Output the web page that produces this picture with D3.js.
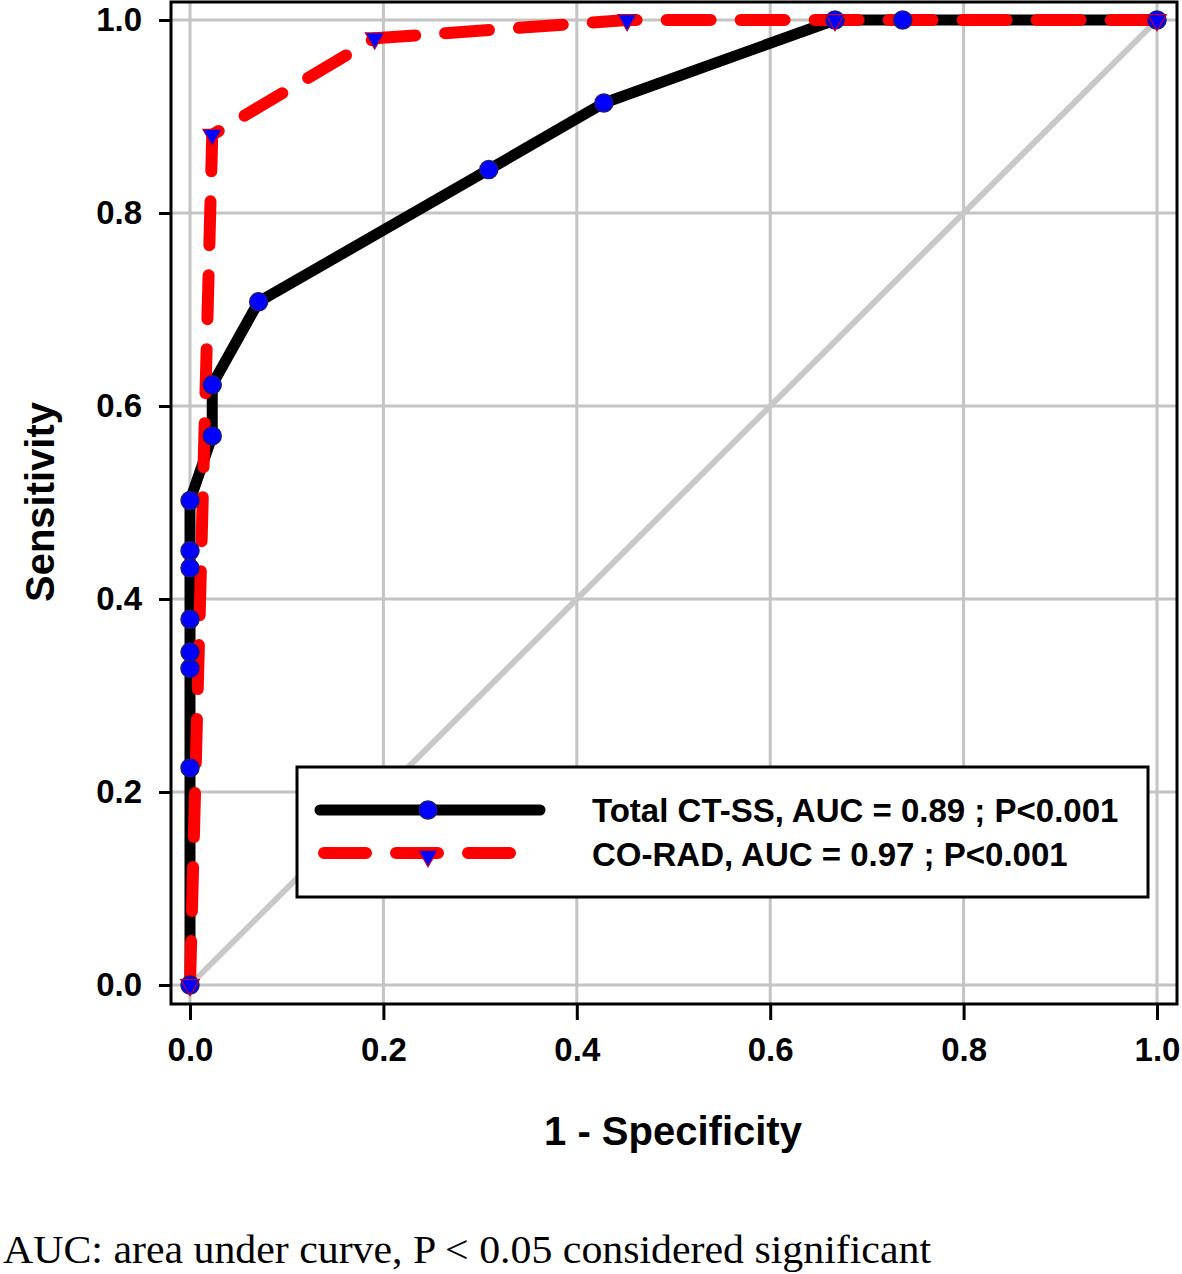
<!DOCTYPE html>
<html><head><meta charset="utf-8">
<script src="https://cdn.jsdelivr.net/npm/d3@7"></script>
<style>html,body{margin:0;padding:0;background:#fff;}svg{display:block;}</style>
</head><body>
<script>
// Data
const ctssFpr = [0, 0, 0, 0, 0, 0, 0, 0, 0.023, 0.023, 0.071, 0.309, 0.428, 0.667, 0.737, 1.0];
const ctssTpr = [0, 0.225, 0.328, 0.345, 0.379, 0.432, 0.45, 0.502, 0.569, 0.622, 0.708, 0.845, 0.914, 1.0, 1.0, 1.0];
const coradFpr = [0, 0.023, 0.191, 0.452, 0.667, 1.0];
const coradTpr = [0, 0.881, 0.981, 1.0, 1.0, 1.0];
const xTicks = [0, 0.2, 0.4, 0.6, 0.8, 1.0];
const yTicks = [0, 0.2, 0.4, 0.6, 0.8, 1.0];
const legendLabels = ["Total CT-SS, AUC = 0.89 ; P<0.001", "CO-RAD, AUC = 0.97 ; P<0.001"];
const xTitle = "1 - Specificity";
const yTitle = "Sensitivity";
const footnote = "AUC: area under curve, P < 0.05 considered significant";

const W = 1182, H = 1274;
const svg = d3.select("body").append("svg").attr("width", W).attr("height", H);

const x = d3.scaleLinear().domain([0, 1]).range([190, 1157]);
const y = d3.scaleLinear().domain([0, 1]).range([985, 20]);
const box = {l: 171, t: 2, r: 1177, b: 1004};

// gridlines
const g = svg.append("g");
g.selectAll(".vg").data(xTicks).join("line")
  .attr("x1", d => x(d)).attr("x2", d => x(d)).attr("y1", box.t).attr("y2", box.b)
  .attr("stroke", "#c4c4c4").attr("stroke-width", 3);
g.selectAll(".hg").data(yTicks).join("line")
  .attr("y1", d => y(d)).attr("y2", d => y(d)).attr("x1", box.l).attr("x2", box.r)
  .attr("stroke", "#c4c4c4").attr("stroke-width", 3);

// diagonal
svg.append("line").attr("x1", x(0)).attr("y1", y(0)).attr("x2", x(1)).attr("y2", y(1))
  .attr("stroke", "#c8c8c8").attr("stroke-width", 6);

// lines
const ctss = ctssFpr.map((f, i) => [f, ctssTpr[i]]);
const corad = coradFpr.map((f, i) => [f, coradTpr[i]]);
const line = d3.line().x(d => x(d[0])).y(d => y(d[1]));

svg.append("path").attr("d", line(ctss)).attr("fill", "none").attr("stroke", "#000")
  .attr("stroke-width", 11).attr("stroke-linejoin", "round").attr("stroke-linecap", "round");
svg.append("path").attr("d", line(corad)).attr("fill", "none").attr("stroke", "#ff0000")
  .attr("stroke-width", 12).attr("stroke-linejoin", "round").attr("stroke-linecap", "round")
  .attr("stroke-dasharray", "44,30");

// markers
svg.selectAll(".c").data(ctss).join("circle")
  .attr("cx", d => x(d[0])).attr("cy", d => y(d[1])).attr("r", 9)
  .attr("fill", "#0000ff").attr("stroke", "#1a1a80").attr("stroke-width", 1.5);
const tri = d3.symbol().type(d3.symbolTriangle).size(150);
svg.selectAll(".t").data(corad).join("path")
  .attr("d", tri)
  .attr("transform", d => `translate(${x(d[0])},${y(d[1])}) rotate(180)`)
  .attr("fill", "#0000ff").attr("stroke", "#c00030").attr("stroke-width", 1.2);

// frame
svg.append("rect").attr("x", box.l).attr("y", box.t).attr("width", box.r - box.l).attr("height", box.b - box.t)
  .attr("fill", "none").attr("stroke", "#000").attr("stroke-width", 3);

// axes
const xAxis = d3.axisBottom(x).tickValues(xTicks).tickFormat(d3.format(".1f")).tickSize(16).tickPadding(18);
const xa = svg.append("g").attr("transform", `translate(0,${box.b})`).call(xAxis);
xa.select(".domain").remove();
xa.selectAll("line").attr("stroke", "#000").attr("stroke-width", 3);
xa.selectAll("text").attr("font-family", "Liberation Sans, Arial, sans-serif")
  .attr("font-weight", "bold").attr("font-size", 33).attr("fill", "#000");

const yAxis = d3.axisLeft(y).tickValues(yTicks).tickFormat(d3.format(".1f")).tickSize(12).tickPadding(17);
const ya = svg.append("g").attr("transform", `translate(${box.l},0)`).call(yAxis);
ya.select(".domain").remove();
ya.selectAll("line").attr("stroke", "#000").attr("stroke-width", 3);
ya.selectAll("text").attr("font-family", "Liberation Sans, Arial, sans-serif")
  .attr("font-weight", "bold").attr("font-size", 33).attr("fill", "#000");

// titles
svg.append("text").attr("x", 673).attr("y", 1145).attr("text-anchor", "middle")
  .attr("font-family", "Liberation Sans, Arial, sans-serif").attr("font-weight", "bold")
  .attr("font-size", 40).text(xTitle);
svg.append("text").attr("transform", "translate(54,502) rotate(-90)").attr("text-anchor", "middle")
  .attr("font-family", "Liberation Sans, Arial, sans-serif").attr("font-weight", "bold")
  .attr("font-size", 40).text(yTitle);

// legend
const lg = svg.append("g");
lg.append("rect").attr("x", 297).attr("y", 767).attr("width", 851).attr("height", 130)
  .attr("fill", "#fff").attr("stroke", "#000").attr("stroke-width", 3);
lg.append("line").attr("x1", 320).attr("x2", 540).attr("y1", 810).attr("y2", 810)
  .attr("stroke", "#000").attr("stroke-width", 11).attr("stroke-linecap", "round");
lg.append("circle").attr("cx", 428).attr("cy", 810).attr("r", 9)
  .attr("fill", "#0000ff").attr("stroke", "#1a1a80").attr("stroke-width", 1.5);
lg.append("line").attr("x1", 324).attr("x2", 516).attr("y1", 853).attr("y2", 853)
  .attr("stroke", "#ff0000").attr("stroke-width", 12).attr("stroke-linecap", "round")
  .attr("stroke-dasharray", "42,30");
lg.append("path").attr("d", tri).attr("transform", "translate(428,856) rotate(180)")
  .attr("fill", "#0000ff").attr("stroke", "#c00030").attr("stroke-width", 1.2);
lg.selectAll(".lt").data(legendLabels).join("text")
  .attr("x", 592).attr("y", (d, i) => 822 + i * 44)
  .attr("font-family", "Liberation Sans, Arial, sans-serif").attr("font-weight", "bold")
  .attr("font-size", 33).attr("fill", "#000").text(d => d);

// footnote
svg.append("text").attr("x", 3).attr("y", 1263)
  .attr("font-family", "Liberation Serif, Times New Roman, serif")
  .attr("font-size", 40).attr("textLength", 928).attr("lengthAdjust", "spacingAndGlyphs")
  .attr("fill", "#000").text(footnote);
</script>
</body></html>
